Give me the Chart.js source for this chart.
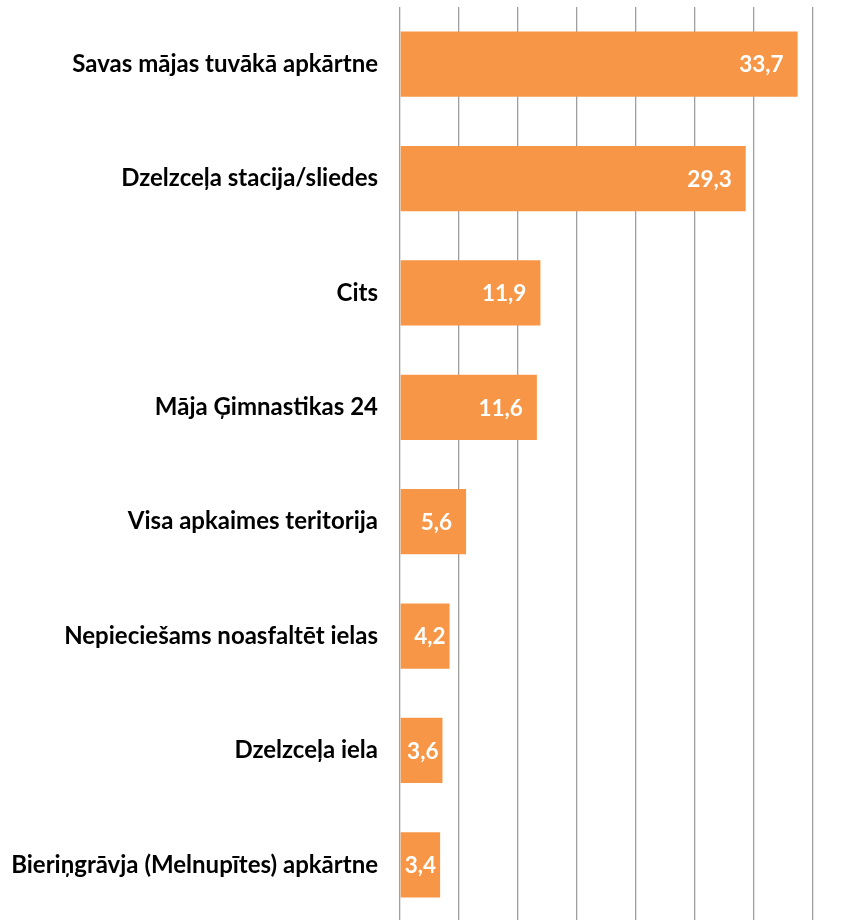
<!DOCTYPE html>
<html>
<head>
<meta charset="utf-8">
<script src="https://cdn.jsdelivr.net/npm/chart.js@4/dist/chart.umd.min.js"></script>
<style>
html,body{margin:0;padding:0;background:#fff;overflow:hidden;}
canvas{display:block;}
</style>
</head>
<body>
<canvas id="c" width="863" height="922"></canvas>
<script>
const categories = [
  "Savas mājas tuvākā apkārtne",
  "Dzelzceļa stacija/sliedes",
  "Cits",
  "Māja Ģimnastikas 24",
  "Visa apkaimes teritorija",
  "Nepieciešams noasfaltēt ielas",
  "Dzelzceļa iela",
  "Bieriņgrāvja (Melnupītes) apkārtne"
];
const values = [33.7, 29.3, 11.9, 11.6, 5.6, 4.2, 3.6, 3.4];
const axisMin = 0, axisMax = 35, axisStep = 5;

const FONT = "Lato";

const labelPlugin = {
  id: 'barLabels',
  afterDatasetsDraw(chart) {
    const ctx = chart.ctx;
    const meta = chart.getDatasetMeta(0);
    ctx.save();
    ctx.fillStyle = '#ffffff';
    ctx.font = 'bold 22.5px ' + FONT;
    ctx.textAlign = 'right';
    ctx.textBaseline = 'middle';
    meta.data.forEach((bar, i) => {
      const txt = values[i].toFixed(1).replace('.', ',');
      const w = ctx.measureText(txt).width;
      const barW = bar.x - bar.base;
      const margin = (barW >= w + 28) ? 14 : 4;
      ctx.fillText(txt, bar.x - margin, bar.y + 1);
    });
    ctx.restore();
  }
};

new Chart(document.getElementById('c'), {
  type: 'bar',
  data: {
    labels: categories,
    datasets: [{
      data: values,
      backgroundColor: '#F79646',
      borderWidth: 0,
      categoryPercentage: 1,
      barPercentage: 0.57
    }]
  },
  options: {
    indexAxis: 'y',
    responsive: false,
    animation: false,
    devicePixelRatio: 1,
    layout: { padding: { top: 7, right: 50, bottom: 0, left: 0 } },
    plugins: { legend: { display: false }, tooltip: { enabled: false } },
    scales: {
      x: {
        min: axisMin, max: axisMax,
        ticks: { display: false, stepSize: axisStep },
        grid: { color: '#9f9f9f', lineWidth: 1.3, drawTicks: false },
        border: { display: false },
        afterFit(scale) { scale.height = 0; scale.paddingLeft = 0; scale.paddingRight = 0; }
      },
      y: {
        grid: { display: false, drawTicks: false },
        border: { display: false },
        ticks: {
          color: '#000000',
          font: { family: FONT, weight: 'bold', size: 24 },
          padding: 22
        },
        afterFit(scale) { scale.width = 400; scale.paddingTop = 0; scale.paddingBottom = 0; }
      }
    }
  },
  plugins: [labelPlugin]
});
</script>
</body>
</html>
